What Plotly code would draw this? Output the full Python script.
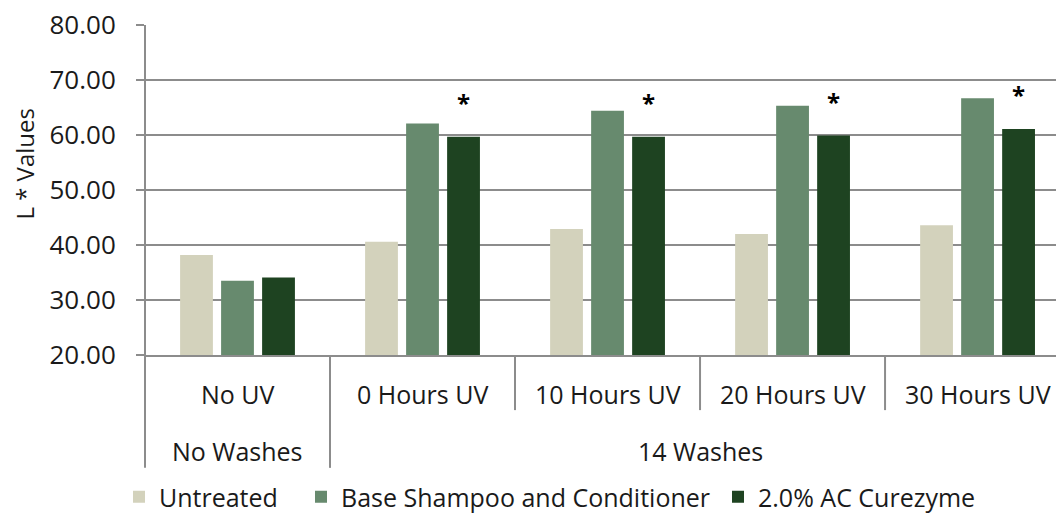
import plotly.graph_objects as go

# ---- data ----
uv_labels = ["No UV", "0 Hours UV", "10 Hours UV", "20 Hours UV", "30 Hours UV"]
wash_labels = ["No Washes", "14 Washes"]
wash_span = [(0, 0), (1, 4)]          # index range of UV groups for each wash label
series_names = ["Untreated", "Base Shampoo and Conditioner", "2.0% AC Curezyme"]
untreated = [38.2, 40.6, 42.9, 42.0, 43.6]
base_sc = [33.5, 62.1, 64.4, 65.3, 66.7]
curezyme = [34.1, 59.7, 59.7, 59.9, 61.1]
significance = ["", "*", "*", "*", "*"]
y_ticks = [20, 30, 40, 50, 60, 70, 80]

colors = ["#D3D2BC", "#678A6E", "#1E4321"]
legend_x_px = [119, 301, 718]
grid = "#8c8c8c"
txt = "#1a1a1a"
FONT = "Open Sans"
FS = 25

bargap = 0.335
slot = (1 - bargap) / 3
xs = list(range(len(uv_labels)))

fig = go.Figure()
legend_ids = ["legend", "legend2", "legend3"]
for name, vals, c, lid in zip(series_names, [untreated, base_sc, curezyme], colors, legend_ids):
    fig.add_trace(go.Bar(x=xs, y=vals, name=name, legend=lid,
                         marker=dict(color=c, line=dict(width=0))))

ann = []
for i, s in enumerate(significance):
    if s:
        ann.append(dict(x=i + slot, y=curezyme[i], xref="x", yref="y", text="<b>%s</b>" % s,
                        showarrow=False, yanchor="bottom", yshift=16,
                        font=dict(family=FONT, size=24, color="#000")))
for i, lab in enumerate(uv_labels):
    ann.append(dict(x=i, y=-0.118, xref="x", yref="paper", text=lab, showarrow=False,
                    yanchor="middle", font=dict(family=FONT, size=FS, color=txt)))
for lab, (a, b) in zip(wash_labels, wash_span):
    ann.append(dict(x=(a + b) / 2, y=-0.291, xref="x", yref="paper", text=lab, showarrow=False,
                    yanchor="middle", font=dict(family=FONT, size=FS, color=txt)))
ann.append(dict(x=-0.1317, y=0.58, xref="paper", yref="paper", text="L * Values", showarrow=False,
                textangle=-90, xanchor="center", yanchor="middle",
                font=dict(family=FONT, size=24, color=txt)))

shapes = []
# left axis line extended through label rows
shapes.append(dict(type="line", xref="paper", yref="paper", x0=0, x1=0, y0=1, y1=-0.342,
                   line=dict(color=grid, width=2)))
# dividers between UV groups
for i in range(len(uv_labels) - 1):
    bnd = i + 0.5
    long = any(abs(bnd - (a - 0.5)) < 1e-9 for a, b in wash_span[1:])
    shapes.append(dict(type="line", xref="x", yref="paper", x0=bnd, x1=bnd, y0=0,
                       y1=-0.342 if long else -0.167, line=dict(color=grid, width=2)))

legends = {}
for lid, lx in zip(legend_ids, legend_x_px):
    legends[lid] = dict(orientation="h", x=lx / 1056, xref="container", xanchor="left",
                        y=17 / 514, yref="container", yanchor="middle",
                        font=dict(family=FONT, size=FS, color=txt), itemclick=False,
                        bgcolor="rgba(0,0,0,0)")

fig.update_layout(
    width=1056, height=514,
    margin=dict(l=145, r=0, t=25, b=159, autoexpand=False),
    paper_bgcolor="white", plot_bgcolor="white",
    barmode="group", bargap=bargap, bargroupgap=0.2,
    font=dict(family=FONT, size=FS, color=txt),
    showlegend=True,
    annotations=ann, shapes=shapes,
    **legends,
)
fig.update_xaxes(range=[-0.5, 4.424], showticklabels=False, showgrid=False, ticks="",
                 showline=True, linecolor=grid, linewidth=2, zeroline=False, fixedrange=True,
                 automargin=False)
fig.update_yaxes(range=[20, 80], tickvals=y_ticks, ticktext=["%.2f" % v for v in y_ticks],
                 showgrid=True, gridcolor=grid, gridwidth=2, ticks="outside", ticklen=8,
                 tickwidth=2, tickcolor=grid, showline=False, zeroline=False,
                 ticklabelstandoff=15, tickfont=dict(size=26, color=txt), automargin=False)

fig.write_html("out.html", config={"displayModeBar": False},
               post_script="document.body.style.margin='0';document.body.style.overflow='hidden';")
